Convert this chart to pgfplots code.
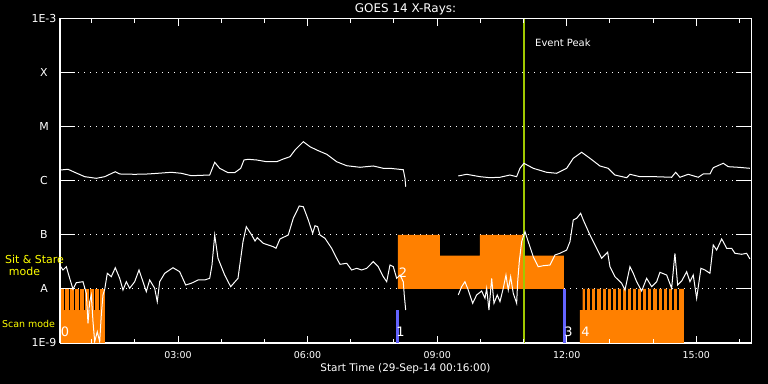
\documentclass[border=0pt]{standalone}
\usepackage{fontspec}
\setmainfont{DejaVu Sans}
\usepackage{pgfplots}
\pgfplotsset{compat=1.18}
\definecolor{goesorange}{RGB}{255,128,0}
\definecolor{goesblue}{RGB}{100,100,255}
\definecolor{goesgreen}{RGB}{160,200,0}
\definecolor{goesyellow}{RGB}{255,255,0}
\begin{document}
\begin{tikzpicture}
\fill[black] (0bp,0bp) rectangle (768bp,384bp);
\useasboundingbox (0bp,0bp) rectangle (768bp,384bp);
\begin{axis}[
  at={(60bp,41bp)}, anchor=south west,
  scale only axis, width=691bp, height=324bp,
  xmin=0.2667, xmax=16.2667, ymin=-9, ymax=-3,
  axis line style={white, line width=1bp},
  xtick=\empty,
  ytick={-9,-8,-7,-6,-5,-4,-3},
  yticklabels={1E-9,A,B,C,M,X,1E-3},
  ytick pos=both, tick align=inside,
  major tick length=15bp,
  tick style={white, line width=1bp},
  yticklabel style={anchor=center, xshift=-16bp, text=white, font=\fontsize{11}{12}\selectfont},
  ymajorgrids=true,
  grid style={white, line width=1bp, dash pattern=on 1bp off 5bp},
]
% Scan mode (0)
\addplot[fill=goesorange, draw=none] coordinates {(0.2667,-9) (0.2667,-8) (1.302,-8) (1.302,-9)};
\addplot[black, line width=1.4bp, unbounded coords=jump] coordinates {
(0.3755,-8.389) (0.3755,-8) (0.3755,nan)
(0.4913,-8.389) (0.4913,-8) (0.4913,nan)
(0.6071,-8.389) (0.6071,-8) (0.6071,nan)
(0.7228,-8.389) (0.7228,-8) (0.7228,nan)
(0.8386,-8.389) (0.8386,-8) (0.8386,nan)
(0.9543,-8.389) (0.9543,-8) (0.9543,nan)
(1.0701,-8.389) (1.0701,-8) (1.0701,nan)
(1.1859,-8.389) (1.1859,-8)
};
% Sit & Stare (2)
\addplot[fill=goesorange, draw=none] coordinates {(8.092,-8) (8.092,-7) (9.065,-7) (9.065,-7.383) (9.991,-7.383) (9.991,-7) (10.998,-7) (10.998,-7.383) (11.936,-7.383) (11.936,-8)};
% Scan mode (4)
\addplot[fill=goesorange, draw=none] coordinates {(12.306,-9) (12.306,-8.389) (12.369,-8.389) (12.369,-8) (14.714,-8) (14.714,-9)};
\addplot[black, line width=2bp, unbounded coords=jump] coordinates {
(12.452,-8.389) (12.452,-8) (12.452,nan)
(12.570,-8.389) (12.570,-8) (12.570,nan)
(12.688,-8.389) (12.688,-8) (12.688,nan)
(12.806,-8.389) (12.806,-8) (12.806,nan)
(12.923,-8.389) (12.923,-8) (12.923,nan)
(13.041,-8.389) (13.041,-8) (13.041,nan)
(13.159,-8.389) (13.159,-8) (13.159,nan)
(13.277,-8.389) (13.277,-8) (13.277,nan)
(13.395,-8.389) (13.395,-8) (13.395,nan)
(13.513,-8.389) (13.513,-8) (13.513,nan)
(13.631,-8.389) (13.631,-8) (13.631,nan)
(13.749,-8.389) (13.749,-8) (13.749,nan)
(13.866,-8.389) (13.866,-8) (13.866,nan)
(13.984,-8.389) (13.984,-8) (13.984,nan)
(14.102,-8.389) (14.102,-8) (14.102,nan)
(14.220,-8.389) (14.220,-8) (14.220,nan)
(14.338,-8.389) (14.338,-8) (14.338,nan)
(14.456,-8.389) (14.456,-8) (14.456,nan)
(14.573,-8.389) (14.573,-8)
};
% blue markers (1, 3)
\addplot[goesblue, line width=3bp] coordinates {(8.081,-9) (8.081,-8.389)};
\addplot[goesblue, line width=3bp] coordinates {(11.943,-9) (11.943,-8)};
% event peak
\addplot[goesgreen, line width=2bp] coordinates {(11.009,-9) (11.009,-3)};
% long channel
\addplot[white, line width=1bp] coordinates {
(0.283,-5.796) (0.452,-5.783) (0.607,-5.839) (0.839,-5.920) (1.107,-5.950) (1.302,-5.920)
(1.547,-5.828) (1.649,-5.870) (1.996,-5.876) (2.304,-5.870) (2.536,-5.857) (2.844,-5.839)
(3.075,-5.857) (3.307,-5.902) (3.733,-5.889) (3.849,-5.654) (3.964,-5.765) (4.157,-5.846)
(4.312,-5.846) (4.451,-5.765) (4.527,-5.611) (4.620,-5.598) (4.821,-5.611) (5.053,-5.643)
(5.284,-5.643) (5.437,-5.593) (5.592,-5.550) (5.708,-5.426) (5.900,-5.272) (6.055,-5.365)
(6.210,-5.426) (6.442,-5.505) (6.673,-5.643) (6.905,-5.717) (7.213,-5.746) (7.521,-5.722)
(7.752,-5.765) (7.907,-5.765) (8.215,-5.791) (8.255,-5.950) (8.271,-6.106)
};
\addplot[white, line width=1bp] coordinates {
(9.488,-5.907) (9.683,-5.876) (9.991,-5.920) (10.222,-5.939) (10.454,-5.931) (10.685,-5.889)
(10.840,-5.920) (10.917,-5.765) (11.009,-5.672) (11.225,-5.765) (11.535,-5.839) (11.766,-5.857)
(11.998,-5.765) (12.151,-5.580) (12.345,-5.468) (12.538,-5.580) (12.769,-5.722) (12.961,-5.765)
(13.116,-5.889) (13.387,-5.939) (13.464,-5.876) (13.695,-5.920) (14.042,-5.920) (14.429,-5.931)
(14.522,-5.839) (14.621,-5.931) (14.813,-5.876) (15.045,-5.931) (15.161,-5.870) (15.316,-5.870)
(15.392,-5.754) (15.624,-5.672) (15.740,-5.735) (15.971,-5.746) (16.242,-5.765)
};
% short channel
\addplot[white, line width=1bp] coordinates {
(0.283,-7.587) (0.336,-7.648) (0.413,-7.587) (0.491,-7.802) (0.568,-8.006) (0.644,-7.883)
(0.799,-7.865) (0.876,-8.080) (0.915,-8.635) (0.954,-8.235) (0.991,-8.111) (1.031,-8.606)
(1.070,-8.976) (1.130,-8.791) (1.186,-8.976) (1.223,-8.481) (1.262,-8.111) (1.302,-8.006)
(1.362,-7.709) (1.454,-7.772) (1.547,-7.606) (1.649,-7.802) (1.725,-8.019) (1.802,-7.865)
(1.880,-7.987) (1.996,-7.865) (2.096,-7.648) (2.188,-7.865) (2.265,-8.050) (2.343,-7.833)
(2.459,-7.987) (2.519,-8.235) (2.575,-7.865) (2.691,-7.709) (2.883,-7.606) (3.038,-7.680)
(3.177,-7.926) (3.307,-7.894) (3.462,-7.833) (3.617,-7.833) (3.733,-7.802) (3.786,-7.556)
(3.849,-7.000) (3.925,-7.431) (4.080,-7.741) (4.219,-7.957) (4.388,-7.802) (4.504,-7.124)
(4.580,-6.846) (4.705,-7.000) (4.782,-7.111) (4.835,-7.050) (4.974,-7.154) (5.205,-7.217)
(5.268,-7.246) (5.360,-7.074) (5.552,-7.000) (5.668,-6.691) (5.807,-6.463) (5.900,-6.476)
(6.016,-6.722) (6.117,-6.969) (6.171,-6.828) (6.233,-6.846) (6.286,-7.000) (6.402,-7.061)
(6.557,-7.246) (6.673,-7.431) (6.750,-7.543) (6.905,-7.524) (7.020,-7.648) (7.136,-7.617)
(7.252,-7.648) (7.368,-7.617) (7.520,-7.494) (7.636,-7.587) (7.752,-7.772) (7.831,-7.865)
(7.907,-7.556) (7.984,-7.587) (8.062,-7.802) (8.139,-7.741) (8.215,-7.865) (8.238,-8.111)
(8.271,-8.389)
};
\addplot[white, line width=1bp] coordinates {
(9.488,-8.111) (9.567,-7.957) (9.643,-7.865) (9.720,-8.019) (9.822,-8.265) (9.914,-8.111)
(10.030,-8.037) (10.107,-8.172) (10.146,-7.987) (10.199,-8.389) (10.262,-7.802) (10.315,-8.265)
(10.391,-8.111) (10.454,-8.235) (10.530,-7.987) (10.593,-7.741) (10.646,-8.019) (10.701,-7.772)
(10.762,-8.080) (10.801,-8.172) (10.840,-8.265) (10.864,-7.865) (10.901,-7.494) (10.956,-7.124)
(11.033,-6.939) (11.109,-7.124) (11.225,-7.402) (11.341,-7.587) (11.457,-7.569) (11.612,-7.556)
(11.727,-7.370) (11.843,-7.339) (11.998,-7.278) (12.075,-7.124) (12.151,-6.722) (12.230,-6.691)
(12.322,-6.598) (12.383,-6.722) (12.538,-7.000) (12.693,-7.246) (12.808,-7.431) (12.947,-7.320)
(13.001,-7.587) (13.116,-7.772) (13.272,-7.894) (13.348,-8.019) (13.464,-7.587) (13.540,-7.709)
(13.619,-7.865) (13.735,-8.037) (13.850,-7.802) (13.966,-7.957) (14.082,-7.865) (14.158,-7.691)
(14.313,-7.741) (14.429,-7.987) (14.505,-7.339) (14.568,-7.926) (14.661,-7.852) (14.777,-7.680)
(14.853,-7.865) (14.929,-7.741) (15.008,-8.172) (15.107,-7.617) (15.200,-7.648) (15.316,-7.709)
(15.392,-7.185) (15.471,-7.278) (15.587,-7.074) (15.624,-7.124) (15.702,-7.246) (15.818,-7.246)
(15.895,-7.339) (16.050,-7.357) (16.166,-7.339) (16.242,-7.444)
};
\end{axis}
\begin{axis}[
  at={(60bp,41bp)}, anchor=south west,
  scale only axis, width=691bp, height=324bp,
  xmin=0.2667, xmax=16.2667, ymin=-9, ymax=-3,
  axis line style={white, line width=1bp},
  ytick=\empty,
  xtick={3,6,9,12,15},
  xticklabels={03:00,06:00,09:00,12:00,15:00},
  minor xtick={1,2,4,5,7,8,10,11,13,14,16},
  xtick pos=both, tick align=inside,
  major tick length=7bp, minor tick length=4bp,
  tick style={white, line width=1bp},
  xticklabel style={anchor=center, yshift=-12bp, text=white, font=\fontsize{9.5}{11}\selectfont},
  xlabel={Start Time (29-Sep-14 00:16:00)},
  xlabel style={at={(0.5,0)}, anchor=center, yshift=-25.5bp, text=white, font=\fontsize{10.5}{12}\selectfont},
]
\end{axis}
\node[text=white, inner sep=0pt, font=\fontsize{12}{13}\selectfont] at (405.5bp,374.5bp) {GOES 14 X-Rays:};
\node[text=white, anchor=west, inner sep=0pt, font=\fontsize{10}{11}\selectfont] at (535bp,341bp) {Event Peak};
\node[text=goesyellow, inner sep=0pt, font=\fontsize{11}{12}\selectfont] at (34.5bp,125bp) {Sit \& Stare};
\node[text=goesyellow, inner sep=0pt, font=\fontsize{11}{12}\selectfont] at (24.5bp,112.5bp) {mode};
\node[text=goesyellow, inner sep=0pt, font=\fontsize{9.5}{11}\selectfont] at (28.5bp,60.5bp) {Scan mode};
\node[text=white, inner sep=0pt, font=\fontsize{13}{13}\selectfont] at (65bp,52bp) {0};
\node[text=white, inner sep=0pt, font=\fontsize{13}{13}\selectfont] at (400.5bp,52bp) {1};
\node[text=white, inner sep=0pt, font=\fontsize{13}{13}\selectfont] at (403bp,111.5bp) {2};
\node[text=white, inner sep=0pt, font=\fontsize{13}{13}\selectfont] at (568.5bp,52bp) {3};
\node[text=white, inner sep=0pt, font=\fontsize{13}{13}\selectfont] at (585.5bp,52bp) {4};
\end{tikzpicture}
\end{document}
